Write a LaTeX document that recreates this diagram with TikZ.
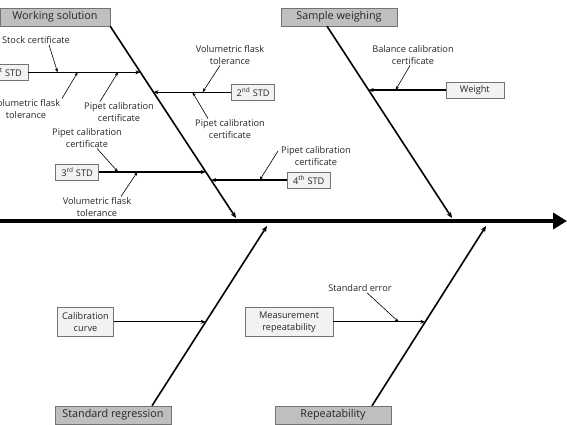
\documentclass[tikz,border=0pt]{standalone}
\usepackage{fontspec}
\setmainfont{Open Sans}
\usetikzlibrary{calc,positioning,arrows.meta}

\begin{document}
\begin{tikzpicture}[x=1pt,y=-1pt,
	cat/.style={draw=black!55,fill=black!25,minimum width=116pt,minimum height=18pt,inner sep=0pt,text=black!85,font=\fontsize{10.8}{12}\selectfont},
	std/.style={draw=black!55,fill=black!5,minimum width=43pt,minimum height=16pt,inner sep=2pt,align=center,text=black!85,font=\fontsize{9.2}{12}\selectfont},
	note/.style={align=center,inner sep=1pt,text=black!85,font=\fontsize{9.2}{11.5}\selectfont},
	spine/.style={line width=3.6pt,-{Triangle[length=14pt,width=16pt]}},
	bone/.style={line width=1.6pt,-{Stealth[length=6pt,width=5pt]}},
	branch/.style={line width=1.2pt,-{Stealth[length=5pt,width=4pt]}},
	pointer/.style={line width=0.6pt,-{Stealth[length=4pt,width=3pt]}}]
\useasboundingbox(0,0)rectangle(567,425);
\clip(0,0)rectangle(567,425);

% head of the fish
\coordinate(tail)at(0,221);
\coordinate(head)at(567,221);
\draw[spine](tail)--(head);

% main causes
\node[cat,minimum width=110pt](ws)at(55,17){Working solution};
\node[cat](sw)at(339,17){Sample weighing};
\node[cat](sr)at(113,415){Standard regression};
\node[cat](rp)at(333,415){Repeatability};

\coordinate(b1)at(236,218);
\coordinate(b2)at(452,218);
\coordinate(b3)at(267,226);
\coordinate(b4)at(486,226);
\draw[bone](ws.south east)--(b1);
\draw[bone]([xshift=-12pt]sw.south)--(b2);
\draw[bone]([xshift=39pt]sr.north)--(b3);
\draw[bone]([xshift=39pt]rp.north)--(b4);

% where the sub causes meet the bones
\coordinate(p1)at($(ws.south east)!0.240!(b1)$);
\coordinate(p2)at($(ws.south east)!0.344!(b1)$);
\coordinate(p3)at($(ws.south east)!0.760!(b1)$);
\coordinate(p4)at($(ws.south east)!0.802!(b1)$);
\coordinate(p5)at($([xshift=-12pt]sw.south)!0.333!(b2)$);
\coordinate(p6)at($([xshift=39pt]sr.north)!0.467!(b3)$);
\coordinate(p7)at($([xshift=39pt]rp.north)!0.467!(b4)$);

\node[std,left=112pt of p1](std1){1\textsuperscript{st} STD};
\node[std,right=78pt of p2](std2){2\textsuperscript{nd} STD};
\node[std,left=107pt of p3](std3){3\textsuperscript{rd} STD};
\node[std,right=76pt of p4](std4){4\textsuperscript{th} STD};
\node[std,right=77pt of p5,minimum width=58pt](wt){Weight};
\node[std,left=92pt of p6,minimum width=56pt,minimum height=29pt](cc){Calibration\\curve};
\node[std,left=92pt of p7,minimum width=88pt,minimum height=29pt](mr){Measurement\\repeatability};

\draw[branch](std1)--(p1);
\draw[branch](std2)--(p2);
\draw[branch](std3)--(p3);
\draw[branch](std4)--(p4);
\draw[branch](wt)--(p5);
\draw[branch](cc)--(p6);
\draw[branch](mr)--(p7);

% uncertainty sources
\node[note](n1)at(36,40){Stock certificate};
\node[note](n2)at(26,109){Volumetric flask\\tolerance};
\node[note](n3)at(119,112){Pipet calibration\\certificate};
\node[note](n4)at(230,55){Volumetric flask\\tolerance};
\node[note](n5)at(230,129){Pipet calibration\\certificate};
\node[note](n6)at(87,138){Pipet calibration\\certificate};
\node[note](n7)at(97,207){Volumetric flask\\tolerance};
\node[note](n8)at(316,156){Pipet calibration\\certificate};
\node[note](n9)at(413,55){Balance calibration\\certificate};
\node[note](n10)at(360,288){Standard error};

\coordinate(q1)at($(std1.east)!0.26!(p1)$);
\coordinate(q2)at($(std1.east)!0.44!(p1)$);
\coordinate(q3)at($(std1.east)!0.80!(p1)$);
\coordinate(q4)at($(std2.west)!0.37!(p2)$);
\coordinate(q5)at($(std2.west)!0.50!(p2)$);
\coordinate(q6)at($(std3.east)!0.18!(p3)$);
\coordinate(q7)at($(std3.east)!0.36!(p3)$);
\coordinate(q8)at($(std4.west)!0.36!(p4)$);
\coordinate(q9)at($(wt.west)!0.65!(p5)$);
\coordinate(q10)at($(mr.east)!0.71!(p7)$);

\draw[pointer]([xshift=13pt]n1.south)--(q1);
\draw[pointer]([xshift=36pt]n2.north)--(q2);
\draw[pointer]([xshift=-19pt]n3.north)--(q3);
\draw[pointer]([xshift=-10pt]n4.south)--(q4);
\draw[pointer]([xshift=-22pt]n5.north)--(q5);
\draw[pointer]([xshift=10pt]n6.south)--(q6);
\draw[pointer]([xshift=24pt]n7.north)--(q7);
\draw[pointer]([shift={(-2pt,5pt)}]n8.west)--(q8);
\draw[pointer]([xshift=-3pt]n9.south)--(q9);
\draw[pointer]([xshift=7pt]n10.south)--(q10);
\end{tikzpicture}
\end{document}
